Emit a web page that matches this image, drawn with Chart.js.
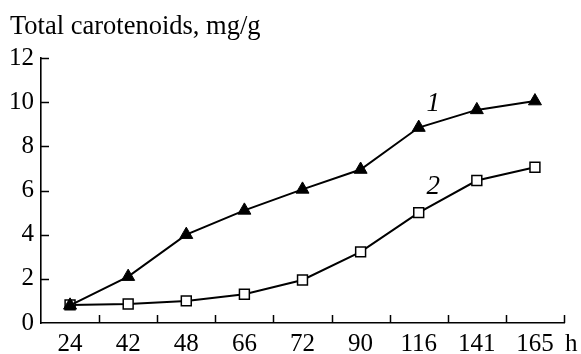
<!DOCTYPE html>
<html>
<head>
<meta charset="utf-8">
<script src="https://cdn.jsdelivr.net/npm/chart.js@4"></script>
<style>
  html, body { margin: 0; padding: 0; background: #fff; }
  #wrap { width: 581px; height: 354px; }
</style>
</head>
<body>
<div id="wrap"><canvas id="chart"></canvas></div>
<script>
// data
const hours = ['24', '42', '48', '66', '72', '90', '116', '141', '165'];
const carotenoids1 = [0.8, 2.1, 4.0, 5.1, 6.05, 6.95, 8.85, 9.65, 10.05];
const carotenoids2 = [0.82, 0.86, 1.0, 1.3, 1.95, 3.22, 5.0, 6.45, 7.05];
const yTicks = [0, 2, 4, 6, 8, 10, 12];

const FONT = "'Liberation Serif', 'Times New Roman', serif";

// inward tick marks + curve numbers + unit "h"
const annotations = {
    id: 'annotations',
    afterDraw(chart) {
        const ctx = chart.ctx;
        const x = chart.scales.x;
        const y = chart.scales.y;
        const area = chart.chartArea;

        ctx.save();
        ctx.strokeStyle = '#000';
        ctx.lineWidth = 1.5;
        ctx.beginPath();
        yTicks.slice(1).forEach(v => {
            const py = Math.round(y.getPixelForValue(v)) + 0.5;
            ctx.moveTo(area.left, py);
            ctx.lineTo(area.left + 8, py);
        });
        hours.forEach((_, i) => {
            const px = Math.round(x.getPixelForValue(i + 0.5)) + 0.5;
            ctx.moveTo(px, area.bottom);
            ctx.lineTo(px, area.bottom - 8);
        });
        ctx.stroke();

        ctx.fillStyle = '#000';
        ctx.textBaseline = 'middle';
        ctx.textAlign = 'center';
        ctx.font = 'italic 27px ' + FONT;
        ctx.fillText('1', x.getPixelForValue(6.25), y.getPixelForValue(9.9));
        ctx.fillText('2', x.getPixelForValue(6.25), y.getPixelForValue(6.15));

        ctx.textAlign = 'left';
        ctx.textBaseline = 'top';
        ctx.font = '25px ' + FONT;
        ctx.fillText('h', area.right + 1, area.bottom + 9);
        ctx.restore();
    }
};

new Chart(document.getElementById('chart'), {
    type: 'line',
    data: {
        labels: hours,
        datasets: [
            {
                label: '1',
                data: carotenoids1,
                borderColor: '#000',
                borderWidth: 2,
                pointStyle: 'triangle',
                pointRadius: 7.5,
                pointBackgroundColor: '#000',
                pointBorderColor: '#000',
                pointBorderWidth: 1,
                tension: 0
            },
            {
                label: '2',
                data: carotenoids2,
                borderColor: '#000',
                borderWidth: 2,
                pointStyle: 'rect',
                pointRadius: 7,
                pointBackgroundColor: '#fff',
                pointBorderColor: '#000',
                pointBorderWidth: 1.5,
                tension: 0
            }
        ]
    },
    options: {
        responsive: true,
        maintainAspectRatio: false,
        animation: false,
        layout: {
            padding: { left: 10, right: 17, top: 0, bottom: 0 }
        },
        plugins: {
            legend: { display: false },
            tooltip: { enabled: false },
            title: {
                display: true,
                text: 'Total carotenoids, mg/g',
                align: 'start',
                color: '#000',
                font: { family: FONT, size: 26.5, weight: 'normal', lineHeight: 1.2 },
                padding: { top: 11, bottom: 15.2 }
            }
        },
        scales: {
            x: {
                offset: true,
                grid: { display: false, drawTicks: false },
                border: { display: true, color: '#000', width: 1.6 },
                ticks: {
                    color: '#000',
                    padding: 6,
                    maxRotation: 0,
                    autoSkip: false,
                    font: { family: FONT, size: 25 }
                },
                afterFit: (scale) => { scale.height = 31; }
            },
            y: {
                min: 0,
                max: 12,
                grid: { display: false, drawTicks: false },
                border: { display: true, color: '#000', width: 1.6 },
                ticks: {
                    stepSize: 2,
                    color: '#000',
                    padding: 7,
                    font: { family: FONT, size: 25 }
                },
                afterFit: (scale) => { scale.width = 31; }
            }
        }
    },
    plugins: [annotations]
});
</script>
</body>
</html>
